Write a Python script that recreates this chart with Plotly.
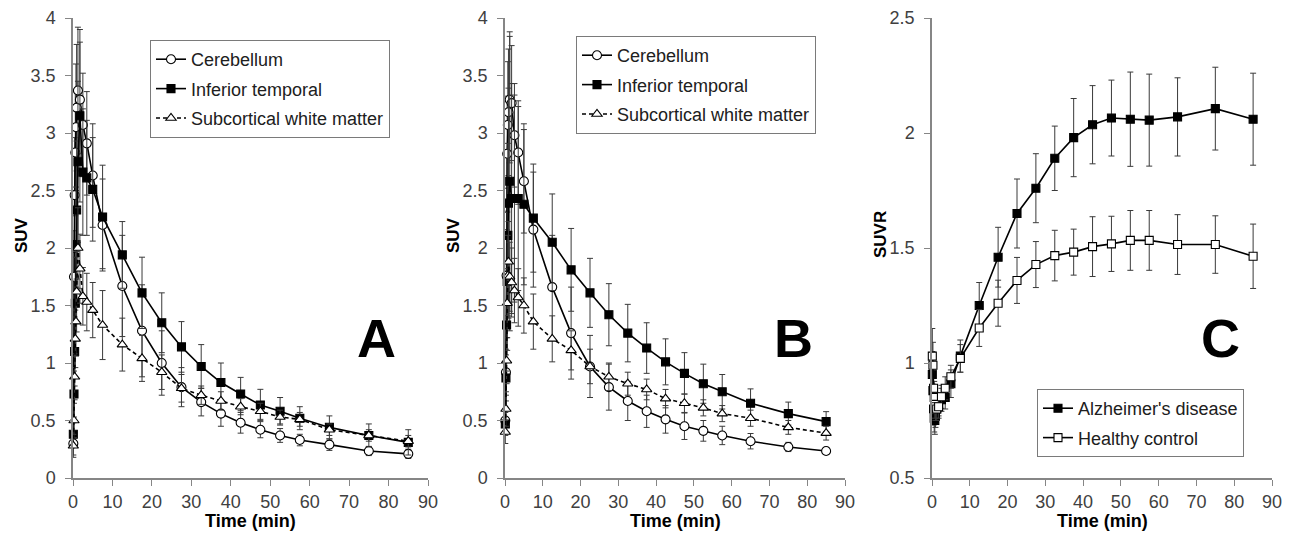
import plotly.graph_objects as go

# ---------------- data ----------------
times = [0.083, 0.25, 0.417, 0.583, 0.75, 0.917, 1.25, 1.75, 2.5, 3.5, 5, 7.5,
         12.5, 17.5, 22.5, 27.5, 32.5, 37.5, 42.5, 47.5, 52.5, 57.5, 65, 75, 85]
x_ticks = [0, 10, 20, 30, 40, 50, 60, 70, 80, 90]

# Panel A (SUV)
a_cereb = [0.3, 1.75, 2.46, 2.83, 3.05, 3.22, 3.37, 3.29, 3.07, 2.91, 2.63, 2.2,
           1.67, 1.28, 1.0, 0.79, 0.66, 0.56, 0.48, 0.42, 0.37, 0.33, 0.29, 0.235, 0.21]
a_cereb_sd = [0.1, 0.4, 0.5, 0.55, 0.55, 0.55, 0.55, 0.5, 0.45, 0.45, 0.45, 0.4,
              0.44, 0.4, 0.28, 0.17, 0.12, 0.11, 0.09, 0.07, 0.06, 0.05, 0.05, 0.04, 0.04]
a_itemp = [0.38, 0.73, 1.1, 1.52, 2.03, 2.33, 2.75, 3.15, 2.66, 2.61, 2.51, 2.27,
           1.94, 1.61, 1.35, 1.14, 0.97, 0.83, 0.73, 0.635, 0.58, 0.52, 0.44, 0.37, 0.31]
a_itemp_sd = [0.1, 0.2, 0.3, 0.4, 0.5, 0.6, 0.7, 0.75, 0.55, 0.5, 0.45, 0.45,
              0.29, 0.31, 0.26, 0.22, 0.19, 0.17, 0.145, 0.136, 0.12, 0.1, 0.1, 0.1, 0.11]
a_wm = [0.28, 0.5, 0.88, 1.21, 1.36, 1.62, 2.0, 1.82, 1.58, 1.53, 1.46, 1.33,
        1.16, 1.04, 0.92, 0.78, 0.72, 0.67, 0.62, 0.58, 0.53, 0.51, 0.42, 0.37, 0.32]
a_wm_sd = [0.1, 0.15, 0.2, 0.25, 0.3, 0.35, 0.35, 0.3, 0.25, 0.25, 0.24, 0.3,
           0.23, 0.2, 0.15, 0.12, 0.08, 0.08, 0.07, 0.07, 0.06, 0.06, 0.05, 0.05, 0.05]

# Panel B (SUV)
b_cereb = [0.5, 0.92, 1.76, 2.82, 3.07, 3.18, 3.29, 3.26, 2.98, 2.83, 2.58, 2.16,
           1.66, 1.26, 0.97, 0.79, 0.67, 0.58, 0.51, 0.45, 0.41, 0.37, 0.32, 0.27, 0.235]
b_cereb_sd = [0.1, 0.2, 0.4, 0.5, 0.55, 0.55, 0.55, 0.5, 0.45, 0.45, 0.45, 0.5,
              0.45, 0.4, 0.27, 0.2, 0.17, 0.14, 0.12, 0.115, 0.09, 0.08, 0.067, 0.04, 0.03]
b_itemp = [0.47, 0.87, 1.33, 1.71, 2.11, 2.39, 2.58, 2.43, 2.43, 2.43, 2.38, 2.26,
           2.05, 1.81, 1.61, 1.42, 1.26, 1.13, 1.01, 0.91, 0.82, 0.75, 0.65, 0.56, 0.49]
b_itemp_sd = [0.1, 0.2, 0.4, 0.6, 0.8, 1.0, 1.3, 1.0, 0.9, 0.8, 0.7, 0.47,
              0.42, 0.36, 0.3, 0.27, 0.25, 0.22, 0.2, 0.18, 0.17, 0.15, 0.125, 0.1, 0.087]
b_wm = [0.4, 0.6, 1.02, 1.52, 1.76, 1.88, 1.75, 1.70, 1.63, 1.57, 1.5, 1.36,
        1.21, 1.11, 0.97, 0.88, 0.82, 0.77, 0.69, 0.65, 0.61, 0.56, 0.52, 0.44, 0.39]
b_wm_sd = [0.1, 0.15, 0.2, 0.3, 0.35, 0.35, 0.3, 0.3, 0.28, 0.25, 0.24, 0.24,
           0.2, 0.17, 0.15, 0.12, 0.1, 0.09, 0.08, 0.08, 0.07, 0.07, 0.07, 0.06, 0.06]

# Panel C (SUVR)
c_ad = [0.95, 0.88, 0.8, 0.76, 0.75, 0.77, 0.8, 0.82, 0.84, 0.85, 0.91, 1.03,
        1.25, 1.46, 1.65, 1.76, 1.89, 1.98, 2.036, 2.065, 2.06, 2.056, 2.07, 2.106, 2.06]
c_ad_sd = [0.1, 0.08, 0.07, 0.06, 0.06, 0.05, 0.05, 0.05, 0.05, 0.05, 0.06, 0.07,
           0.1, 0.13, 0.15, 0.15, 0.14, 0.17, 0.17, 0.165, 0.205, 0.2, 0.17, 0.18, 0.2]
c_hc = [1.03, 0.99, 0.89, 0.85, 0.82, 0.81, 0.8, 0.81, 0.853, 0.89, 0.94, 1.02,
        1.152, 1.26, 1.359, 1.428, 1.467, 1.482, 1.506, 1.518, 1.533, 1.533, 1.515, 1.515, 1.464]
c_hc_sd = [0.12, 0.1, 0.08, 0.07, 0.06, 0.06, 0.05, 0.05, 0.05, 0.05, 0.05, 0.06,
           0.08, 0.1, 0.1, 0.1, 0.11, 0.1, 0.13, 0.12, 0.13, 0.13, 0.13, 0.125, 0.14]

# ---------------- figure ----------------
W, H = 1294, 541
OFF = 8  # page body margin offset
FONT = "Liberation Sans, Arial, sans-serif"
AX = "#868686"
TXT = "#404040"


def px(x):
    return (x - OFF) / W


def py(y):
    return 1 - (y - OFF) / H


fig = go.Figure()


def add(xa, ya, y, sd, name, symbol, size, fill, dash, legend, group):
    fig.add_trace(go.Scatter(
        x=times, y=y, name=name, mode="lines+markers",
        xaxis=xa, yaxis=ya, legend=legend, legendgroup=group, cliponaxis=False,
        line=dict(color="black", width=1.6, dash=dash),
        marker=dict(symbol=symbol, size=size, color=fill,
                    line=dict(color="black", width=1.1)),
        error_y=dict(type="data", array=sd, visible=True,
                     color="#3a3a3a", thickness=1, width=3),
    ))


add("x", "y", a_cereb, a_cereb_sd, "Cerebellum", "circle", 9, "white", "solid", "legend", "a1")
add("x", "y", a_itemp, a_itemp_sd, "Inferior temporal", "square", 8, "black", "solid", "legend", "a2")
add("x", "y", a_wm, a_wm_sd, "Subcortical white matter", "triangle-up", 9, "white", "4px,3px", "legend", "a3")

add("x2", "y2", b_cereb, b_cereb_sd, "Cerebellum", "circle", 9, "white", "solid", "legend2", "b1")
add("x2", "y2", b_itemp, b_itemp_sd, "Inferior temporal", "square", 8, "black", "solid", "legend2", "b2")
add("x2", "y2", b_wm, b_wm_sd, "Subcortical white matter", "triangle-up", 9, "white", "4px,3px", "legend2", "b3")

add("x3", "y3", c_ad, c_ad_sd, "Alzheimer's disease", "square", 8, "black", "solid", "legend3", "c1")
add("x3", "y3", c_hc, c_hc_sd, "Healthy control", "square", 8, "white", "solid", "legend3", "c2")

panels = [(73, 428), (505, 845), (932, 1272)]

common_x = dict(range=[0, 90], tickvals=x_ticks, showgrid=False, zeroline=False,
                showline=True, linecolor=AX, linewidth=1.5, ticks="outside",
                ticklen=6, tickcolor=AX, tickwidth=1.3, ticklabelstandoff=1,
                tickfont=dict(family=FONT, size=18, color=TXT))
common_y = dict(showgrid=False, zeroline=False, showline=True, linecolor=AX,
                linewidth=1.5, ticks="outside", ticklen=6, tickcolor=AX, tickwidth=1.3,
                tickfont=dict(family=FONT, size=18, color=TXT), ticklabelstandoff=6)

layout = dict(width=W, height=H,
              margin=dict(l=0, r=0, t=0, b=0, pad=0, autoexpand=False),
              paper_bgcolor="white", plot_bgcolor="white",
              font=dict(family=FONT, size=18, color=TXT))
for i, (l, r) in enumerate(panels):
    s = "" if i == 0 else str(i + 1)
    layout["xaxis" + s] = dict(common_x, domain=[px(l), px(r)], anchor="y" + s,
                               automargin=False)
    yr = [0.5, 2.5] if i == 2 else [0, 4]
    layout["yaxis" + s] = dict(common_y, domain=[py(478), py(18)], anchor="x" + s,
                               range=yr, dtick=0.5, tick0=0, automargin=False)

leg_common = dict(bgcolor="white", bordercolor="#7a7a7a", borderwidth=1,
                  font=dict(family=FONT, size=18, color="#202020"),
                  xanchor="left", yanchor="top", tracegroupgap=3, itemwidth=30)
layout["legend"] = dict(leg_common, x=px(150), y=py(40))
layout["legend2"] = dict(leg_common, x=px(576), y=py(36))
layout["legend3"] = dict(leg_common, x=px(1037), y=py(389))

fig.update_layout(**layout)

ann = []
for (l, r), letter, yl in zip(panels, ["A", "B", "C"], ["SUV", "SUV", "SUVR"]):
    ann.append(dict(text="<b>Time (min)</b>", x=px((l + r) / 2), y=py(521),
                    xref="paper", yref="paper", showarrow=False,
                    xanchor="center", yanchor="middle",
                    font=dict(family=FONT, size=18, color="black")))
    ann.append(dict(text="<b>%s</b>" % yl, x=px(l - 52), y=py(235),
                    xref="paper", yref="paper", showarrow=False, textangle=-90,
                    xanchor="center", yanchor="middle",
                    font=dict(family=FONT, size=17, color="black")))
    ann.append(dict(text="<b>%s</b>" % letter, x=px(r - 52), y=py(338),
                    xref="paper", yref="paper", showarrow=False,
                    xanchor="center", yanchor="middle",
                    font=dict(family=FONT, size=54, color="black")))
fig.update_layout(annotations=ann)

fig.write_html("out.html")
